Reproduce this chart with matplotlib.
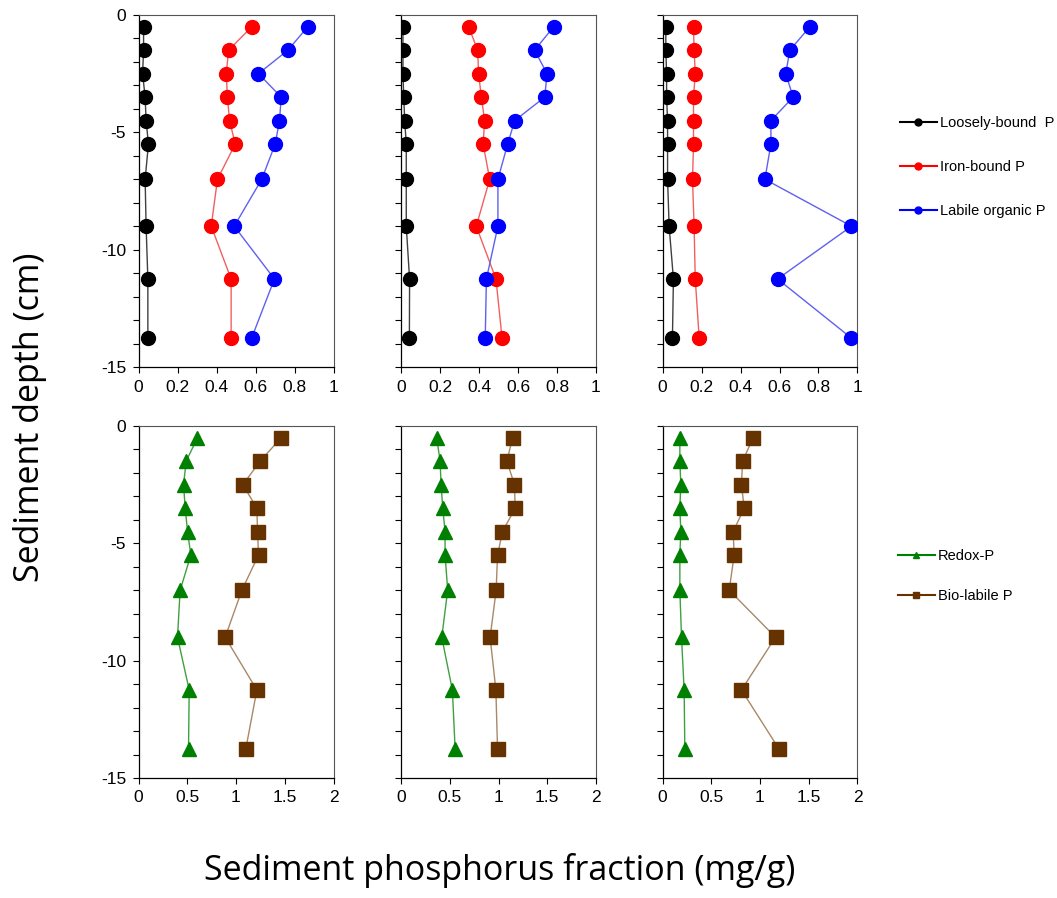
import matplotlib
matplotlib.use('Agg')
import matplotlib.pyplot as plt
from matplotlib.ticker import MultipleLocator

# sampling depths (cm below sediment surface)
depth = [-0.5, -1.5, -2.5, -3.5, -4.5, -5.5, -7.0, -9.0, -11.25, -13.75]

# P fractions (mg/g) for the three cores
loosely_p = [
    [0.026, 0.026, 0.021, 0.034, 0.039, 0.051, 0.034, 0.039, 0.048, 0.048],
    [0.010, 0.010, 0.010, 0.014, 0.019, 0.027, 0.027, 0.027, 0.044, 0.043],
    [0.017, 0.017, 0.021, 0.021, 0.026, 0.026, 0.026, 0.034, 0.056, 0.051],
]
iron_p = [
    [0.581, 0.462, 0.450, 0.456, 0.467, 0.496, 0.405, 0.373, 0.475, 0.475],
    [0.347, 0.393, 0.398, 0.412, 0.429, 0.421, 0.455, 0.386, 0.487, 0.518],
    [0.159, 0.162, 0.168, 0.159, 0.159, 0.159, 0.154, 0.162, 0.168, 0.188],
]
labile_org_p = [
    [0.868, 0.766, 0.615, 0.732, 0.723, 0.701, 0.632, 0.491, 0.697, 0.581],
    [0.783, 0.685, 0.749, 0.737, 0.583, 0.547, 0.497, 0.497, 0.438, 0.432],
    [0.756, 0.653, 0.632, 0.670, 0.556, 0.556, 0.525, 0.969, 0.590, 0.966],
]
redox_p = [
    [0.605, 0.489, 0.462, 0.479, 0.503, 0.537, 0.427, 0.400, 0.520, 0.513],
    [0.366, 0.401, 0.411, 0.428, 0.452, 0.452, 0.479, 0.418, 0.527, 0.555],
    [0.178, 0.178, 0.188, 0.178, 0.188, 0.178, 0.178, 0.195, 0.222, 0.229],
]
biolabile_p = [
    [1.463, 1.248, 1.070, 1.214, 1.221, 1.231, 1.060, 0.889, 1.214, 1.101],
    [1.144, 1.086, 1.164, 1.171, 1.041, 0.990, 0.976, 0.914, 0.973, 0.990],
    [0.930, 0.821, 0.810, 0.838, 0.725, 0.735, 0.684, 1.159, 0.810, 1.193],
]

W, H = 1057, 898
plt.rcParams['font.family'] = ['Liberation Sans', 'DejaVu Sans']
fig = plt.figure(figsize=(W / 100, H / 100), dpi=100)

col_left = [138.5, 401, 662.5]
ax_w = 195
ax_h = 352
row_top = [15, 426]


def make_ax(row, col, xmax, xstep):
    ax = fig.add_axes([col_left[col] / W, 1 - (row_top[row] + ax_h) / H,
                       ax_w / W, ax_h / H])
    ax.set_xlim(0, xmax)
    ax.set_ylim(-15, 0)
    ax.yaxis.set_major_locator(MultipleLocator(5))
    ax.yaxis.set_minor_locator(MultipleLocator(1))
    ax.tick_params(which='both', direction='out', length=4, width=0.8,
                   labelsize=12.5, colors='black', pad=5)
    ticks = [i * xstep for i in range(int(round(xmax / xstep)) + 1)]
    ax.set_xticks(ticks)
    ax.set_xticklabels(['%g' % t for t in ticks])
    for s in ['top', 'right']:
        ax.spines[s].set_color('#555555')
        ax.spines[s].set_linewidth(0.8)
    for s in ['left', 'bottom']:
        ax.spines[s].set_linewidth(0.9)
    if col > 0:
        ax.set_yticklabels([])
    else:
        ax.set_yticks([0, -5, -10, -15])
        ax.set_yticklabels(['0', '-5', '-10', '-15'])
    return ax


top_handles = []
bot_handles = []
for c in range(3):
    ax = make_ax(0, c, 1, 0.2)
    series = [
        (loosely_p[c], 'black', '#404040', 'Loosely-bound  P'),
        (iron_p[c], '#ff0000', '#f06060', 'Iron-bound P'),
        (labile_org_p[c], '#0000ff', '#6060f0', 'Labile organic P'),
    ]
    for vals, mc, lc, lab in series:
        ax.plot(vals, depth, '-', color=lc, lw=1, zorder=2)
        ax.plot(vals, depth, 'o', color=mc, ms=10, mec=mc, zorder=3)
        if c == 0:
            top_handles.append(plt.Line2D([], [], color=mc, lw=1.5, marker='o',
                                          ms=5, label=lab))

    ax = make_ax(1, c, 2, 0.5)
    series = [
        (redox_p[c], '#008000', '#40a040', '^', 'Redox-P'),
        (biolabile_p[c], '#663300', '#a88868', 's', 'Bio-labile P'),
    ]
    for vals, mc, lc, mk, lab in series:
        ax.plot(vals, depth, '-', color=lc, lw=1, zorder=2)
        ax.plot(vals, depth, mk, color=mc, ms=9.5, mec=mc, zorder=3)
        if c == 0:
            bot_handles.append(plt.Line2D([], [], color=mc, lw=1.5, marker=mk,
                                          ms=5, label=lab))

fig.legend(handles=top_handles, loc='upper left', bbox_to_anchor=(887 / W, 1 - 103 / H),
           frameon=False, fontsize=10.5, handlelength=2.5, handletextpad=0.2,
           labelspacing=2.05)
fig.legend(handles=bot_handles, loc='upper left', bbox_to_anchor=(885 / W, 1 - 536 / H),
           frameon=False, fontsize=10.5, handlelength=2.5, handletextpad=0.2,
           labelspacing=1.75)

fig.text(30 / W, 1 - 417 / H, 'Sediment depth (cm)', rotation=90, ha='center',
         va='center', fontsize=24.5, family='Open Sans')
fig.text(500 / W, 1 - 871 / H, 'Sediment phosphorus fraction (mg/g)', ha='center',
         va='center', fontsize=24.5, family='Open Sans')

fig.savefig('out.png', dpi=100)
